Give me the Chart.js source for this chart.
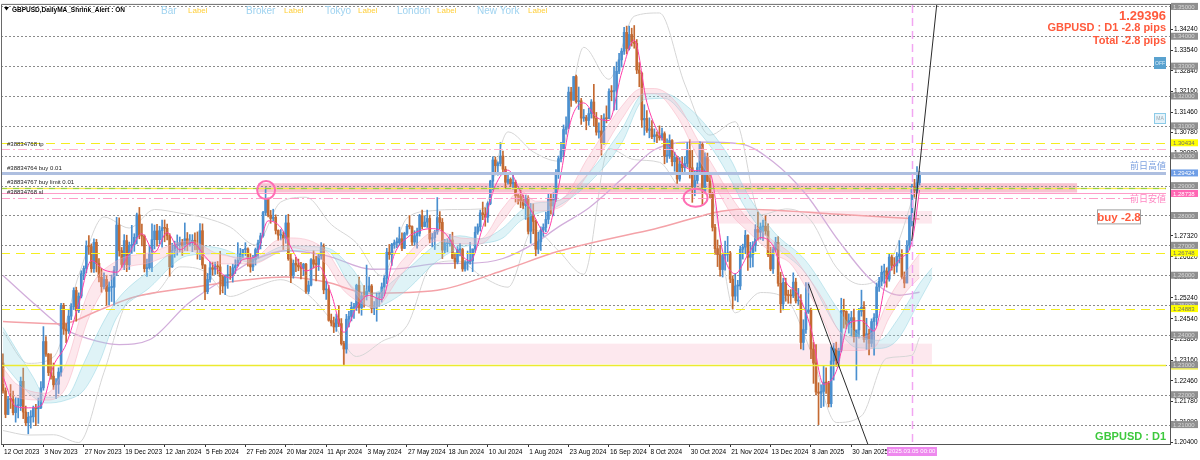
<!DOCTYPE html>
<html>
<head>
<meta charset="utf-8">
<title>GBPUSD Daily</title>
<script src="https://cdn.jsdelivr.net/npm/chart.js@4.4.1/dist/chart.umd.min.js"></script>
<style>
  html, body { margin: 0; padding: 0; background: #fff; }
  #wrap { width: 1200px; height: 460px; position: relative; }
</style>
</head>
<body>
<div id="wrap"><canvas id="chart"></canvas></div>
<script>
// --- daily candles, 12 Oct 2023 .. Mar 2025 (bar index = position) ---
const openP = [
  1.2306,1.2213,1.2134,1.2185,1.2184,1.2140,1.2163,1.2163,1.2245,1.2142,
  1.2106,1.2125,1.2126,1.2156,1.2153,1.2157,1.2223,1.2378,1.2336,1.2274,
  1.2262,1.2233,1.2235,1.2276,1.2499,1.2420,1.2414,1.2463,1.2495,1.2549,
  1.2481,1.2530,1.2605,1.2623,1.2698,1.2696,1.2622,1.2710,1.2640,1.2593,
  1.2562,1.2586,1.2546,1.2559,1.2560,1.2617,1.2768,1.2682,1.2636,1.2716,
  1.2635,1.2700,1.2702,1.2727,1.2802,1.2734,1.2731,1.2622,1.2625,1.2671,
  1.2719,1.2748,1.2719,1.2749,1.2759,1.2757,1.2732,1.2628,1.2682,1.2701,
  1.2702,1.2710,1.2697,1.2722,1.2705,1.2710,1.2717,1.2700,1.2686,1.2749,
  1.2634,1.2545,1.2586,1.2625,1.2620,1.2630,1.2628,1.2595,1.2564,1.2599,
  1.2601,1.2598,1.2625,1.2632,1.2651,1.2672,1.2686,1.2688,1.2656,1.2628,
  1.2653,1.2686,1.2708,1.2732,1.2810,1.2857,1.2801,1.2790,1.2794,1.2750,
  1.2734,1.2734,1.2722,1.2775,1.2655,1.2599,1.2640,1.2634,1.2628,1.2623,
  1.2637,1.2546,1.2567,1.2652,1.2637,1.2636,1.2665,1.2696,1.2551,1.2552,
  1.2449,1.2440,1.2427,1.2454,1.2438,1.2371,1.2353,1.2453,1.2462,1.2492,
  1.2492,1.2566,1.2491,1.2531,1.2530,1.2547,1.2564,1.2489,1.2494,1.2524,
  1.2524,1.2561,1.2590,1.2677,1.2669,1.2703,1.2709,1.2709,1.2722,1.2690,
  1.2740,1.2764,1.2763,1.2711,1.2732,1.2740,1.2800,1.2763,1.2778,1.2790,
  1.2721,1.2726,1.2745,1.2793,1.2777,1.2684,1.2706,1.2706,1.2718,1.2657,
  1.2644,1.2685,1.2686,1.2621,1.2642,1.2645,1.2648,1.2688,1.2744,1.2762,
  1.2809,1.2803,1.2794,1.2840,1.2915,1.2986,1.2967,1.2974,1.2999,1.2955,
  1.2911,1.2921,1.2906,1.2911,1.2866,1.2865,1.2849,1.2834,1.2858,1.2747,
  1.2803,1.2780,1.2687,1.2712,1.2751,1.2760,1.2787,1.2858,1.2832,1.2855,
  1.2943,1.2990,1.3016,1.3088,1.3096,1.3213,1.3186,1.3265,1.3181,1.3184,
  1.3126,1.3128,1.3118,1.3141,1.3180,1.3126,1.3079,1.3083,1.3043,1.3126,
  1.3124,1.3215,1.3214,1.3219,1.3283,1.3321,1.3350,1.3413,1.3359,1.3406,
  1.3380,1.3376,1.3287,1.3276,1.3120,1.3125,1.3085,1.3090,1.3064,1.3070,
  1.3067,1.3060,1.3074,1.2999,1.2999,1.3051,1.2980,1.2994,1.2922,1.2972,
  1.2960,1.2974,1.3017,1.2960,1.2896,1.2917,1.2960,1.3038,1.2885,1.2994,
  1.2915,1.2874,1.2760,1.2689,1.2669,1.2619,1.2666,1.2670,1.2675,1.2587,
  1.2530,1.2564,1.2564,1.2687,1.2694,1.2734,1.2660,1.2669,1.2700,1.2753,
  1.2744,1.2762,1.2764,1.2748,1.2669,1.2621,1.2686,1.2710,1.2573,1.2504,
  1.2576,1.2533,1.2532,1.2531,1.2577,1.2514,1.2516,1.2375,1.2418,1.2477,
  1.2484,1.2353,1.2306,1.2209,1.2205,1.2211,1.2242,1.2239,1.2170,1.2313,
  1.2354,1.2315,1.2349,1.2481,1.2479,1.2436,1.2448,1.2458,1.2394,1.2417,
  1.2479,1.2493,1.2385,1.2404,1.2372,1.2445,1.2458,1.2561,1.2580,1.2610,
  1.2614,1.2587,1.2661,1.2633,1.2631,1.2663,1.2671,1.2594,1.2574,1.2700,
  1.2795,1.2897,1.2884,1.2910
];
const highP = [
  1.2337,1.2223,1.2195,1.2234,1.2212,1.2190,1.2189,1.2259,1.2289,1.2162,
  1.2141,1.2147,1.2162,1.2168,1.2189,1.2244,1.2428,1.2395,1.2338,1.2337,
  1.2306,1.2254,1.2290,1.2506,1.2506,1.2438,1.2486,1.2505,1.2558,1.2560,
  1.2541,1.2615,1.2631,1.2715,1.2733,1.2705,1.2722,1.2720,1.2656,1.2623,
  1.2608,1.2600,1.2578,1.2601,1.2630,1.2794,1.2792,1.2693,1.2736,1.2734,
  1.2711,1.2767,1.2739,1.2808,1.2827,1.2771,1.2735,1.2654,1.2700,1.2772,
  1.2768,1.2770,1.2764,1.2785,1.2785,1.2771,1.2739,1.2707,1.2714,1.2735,
  1.2728,1.2720,1.2775,1.2743,1.2736,1.2736,1.2742,1.2745,1.2773,1.2772,
  1.2636,1.2606,1.2645,1.2644,1.2644,1.2646,1.2680,1.2600,1.2601,1.2634,
  1.2630,1.2637,1.2652,1.2709,1.2690,1.2687,1.2709,1.2692,1.2672,1.2667,
  1.2691,1.2718,1.2741,1.2814,1.2893,1.2858,1.2817,1.2821,1.2802,1.2752,
  1.2753,1.2745,1.2801,1.2804,1.2671,1.2651,1.2660,1.2654,1.2643,1.2640,
  1.2640,1.2581,1.2656,1.2682,1.2663,1.2672,1.2709,1.2705,1.2581,1.2566,
  1.2470,1.2460,1.2470,1.2498,1.2455,1.2379,1.2469,1.2479,1.2510,1.2506,
  1.2570,1.2594,1.2541,1.2565,1.2634,1.2594,1.2569,1.2512,1.2540,1.2541,
  1.2574,1.2599,1.2690,1.2703,1.2707,1.2718,1.2725,1.2761,1.2742,1.2744,
  1.2770,1.2800,1.2765,1.2749,1.2758,1.2804,1.2818,1.2799,1.2818,1.2801,
  1.2740,1.2750,1.2860,1.2813,1.2790,1.2720,1.2722,1.2737,1.2744,1.2675,
  1.2696,1.2707,1.2690,1.2649,1.2681,1.2710,1.2688,1.2762,1.2772,1.2818,
  1.2845,1.2826,1.2846,1.2918,1.2996,1.2996,1.2980,1.3044,1.3016,1.2964,
  1.2944,1.2926,1.2937,1.2918,1.2874,1.2885,1.2868,1.2868,1.2866,1.2840,
  1.2839,1.2785,1.2744,1.2762,1.2772,1.2811,1.2873,1.2872,1.2876,1.2954,
  1.2999,1.3045,1.3103,1.3130,1.3230,1.3229,1.3266,1.3270,1.3230,1.3192,
  1.3155,1.3135,1.3159,1.3188,1.3239,1.3145,1.3110,1.3135,1.3140,1.3167,
  1.3224,1.3235,1.3298,1.3314,1.3343,1.3359,1.3430,1.3434,1.3434,1.3427,
  1.3436,1.3389,1.3312,1.3280,1.3171,1.3151,1.3127,1.3118,1.3090,1.3080,
  1.3100,1.3093,1.3080,1.3057,1.3070,1.3054,1.3012,1.2999,1.2994,1.2995,
  1.2997,1.3044,1.3054,1.3018,1.2949,1.2976,1.3047,1.3043,1.3010,1.3009,
  1.2935,1.2877,1.2770,1.2718,1.2700,1.2672,1.2714,1.2730,1.2680,1.2598,
  1.2605,1.2583,1.2698,1.2704,1.2750,1.2735,1.2710,1.2713,1.2769,1.2811,
  1.2775,1.2785,1.2799,1.2772,1.2694,1.2693,1.2727,1.2729,1.2610,1.2590,
  1.2590,1.2550,1.2552,1.2608,1.2590,1.2556,1.2535,1.2451,1.2575,1.2575,
  1.2490,1.2375,1.2368,1.2240,1.2233,1.2295,1.2290,1.2245,1.2360,1.2372,
  1.2376,1.2356,1.2523,1.2520,1.2481,1.2471,1.2479,1.2487,1.2407,1.2489,
  1.2550,1.2512,1.2456,1.2420,1.2454,1.2472,1.2574,1.2593,1.2631,1.2637,
  1.2625,1.2671,1.2668,1.2659,1.2676,1.2716,1.2686,1.2611,1.2716,1.2800,
  1.2904,1.2921,1.2964,1.2948
];
const lowP = [
  1.2205,1.2123,1.2133,1.2154,1.2132,1.2108,1.2122,1.2147,1.2120,1.2096,
  1.2069,1.2088,1.2108,1.2096,1.2104,1.2153,1.2215,1.2328,1.2264,1.2252,
  1.2218,1.2187,1.2204,1.2262,1.2402,1.2374,1.2405,1.2451,1.2485,1.2446,
  1.2475,1.2524,1.2585,1.2608,1.2670,1.2610,1.2609,1.2611,1.2578,1.2543,
  1.2554,1.2499,1.2501,1.2512,1.2500,1.2599,1.2664,1.2626,1.2619,1.2612,
  1.2619,1.2673,1.2680,1.2705,1.2722,1.2698,1.2611,1.2596,1.2620,1.2612,
  1.2688,1.2697,1.2705,1.2694,1.2712,1.2718,1.2597,1.2626,1.2660,1.2667,
  1.2678,1.2666,1.2683,1.2682,1.2697,1.2679,1.2685,1.2654,1.2652,1.2622,
  1.2518,1.2538,1.2577,1.2600,1.2603,1.2604,1.2536,1.2541,1.2535,1.2556,
  1.2586,1.2577,1.2606,1.2630,1.2640,1.2657,1.2666,1.2630,1.2610,1.2615,
  1.2634,1.2658,1.2688,1.2727,1.2800,1.2795,1.2774,1.2782,1.2738,1.2717,
  1.2718,1.2686,1.2707,1.2650,1.2575,1.2590,1.2612,1.2615,1.2588,1.2599,
  1.2539,1.2538,1.2564,1.2624,1.2581,1.2616,1.2654,1.2538,1.2519,1.2446,
  1.2430,1.2408,1.2412,1.2428,1.2366,1.2300,1.2339,1.2427,1.2447,1.2455,
  1.2482,1.2473,1.2466,1.2493,1.2517,1.2544,1.2474,1.2468,1.2446,1.2496,
  1.2510,1.2531,1.2572,1.2653,1.2633,1.2690,1.2692,1.2701,1.2682,1.2689,
  1.2734,1.2755,1.2700,1.2702,1.2691,1.2731,1.2755,1.2762,1.2760,1.2709,
  1.2695,1.2686,1.2737,1.2755,1.2656,1.2675,1.2678,1.2697,1.2655,1.2623,
  1.2638,1.2665,1.2613,1.2614,1.2617,1.2637,1.2612,1.2677,1.2737,1.2748,
  1.2786,1.2764,1.2777,1.2836,1.2886,1.2936,1.2935,1.2966,1.2938,1.2893,
  1.2905,1.2897,1.2888,1.2845,1.2838,1.2826,1.2823,1.2787,1.2738,1.2707,
  1.2739,1.2665,1.2672,1.2683,1.2730,1.2745,1.2772,1.2804,1.2799,1.2846,
  1.2924,1.2979,1.2997,1.3072,1.3090,1.3165,1.3185,1.3176,1.3155,1.3105,
  1.3115,1.3087,1.3102,1.3126,1.3101,1.3069,1.3059,1.3002,1.3038,1.3110,
  1.3124,1.3184,1.3153,1.3154,1.3275,1.3297,1.3339,1.3341,1.3354,1.3367,
  1.3360,1.3275,1.3231,1.3095,1.3069,1.3078,1.3060,1.3057,1.3046,1.3044,
  1.3052,1.3052,1.2973,1.2978,1.2991,1.2966,1.2948,1.2907,1.2915,1.2945,
  1.2947,1.2962,1.2925,1.2844,1.2866,1.2907,1.2940,1.2835,1.2878,1.2913,
  1.2859,1.2748,1.2670,1.2629,1.2597,1.2594,1.2617,1.2646,1.2575,1.2487,
  1.2516,1.2511,1.2552,1.2654,1.2672,1.2616,1.2626,1.2628,1.2680,1.2717,
  1.2720,1.2716,1.2734,1.2662,1.2615,1.2606,1.2680,1.2563,1.2475,1.2484,
  1.2513,1.2506,1.2506,1.2525,1.2507,1.2502,1.2353,1.2350,1.2405,1.2472,
  1.2321,1.2238,1.2199,1.2100,1.2157,1.2161,1.2204,1.2159,1.2159,1.2249,
  1.2295,1.2293,1.2343,1.2423,1.2421,1.2406,1.2396,1.2376,1.2249,1.2389,
  1.2463,1.2376,1.2352,1.2333,1.2360,1.2332,1.2432,1.2546,1.2564,1.2573,
  1.2560,1.2580,1.2617,1.2604,1.2610,1.2641,1.2588,1.2558,1.2574,1.2685,
  1.2764,1.2861,1.2874,1.2902
];
const closeP = [
  1.2213,1.2134,1.2185,1.2184,1.2140,1.2163,1.2163,1.2245,1.2142,1.2106,
  1.2125,1.2126,1.2156,1.2153,1.2157,1.2223,1.2378,1.2336,1.2274,1.2262,
  1.2233,1.2235,1.2276,1.2499,1.2420,1.2414,1.2463,1.2495,1.2549,1.2481,
  1.2530,1.2605,1.2623,1.2698,1.2696,1.2622,1.2710,1.2640,1.2593,1.2562,
  1.2586,1.2546,1.2559,1.2560,1.2617,1.2768,1.2682,1.2636,1.2716,1.2635,
  1.2700,1.2702,1.2727,1.2802,1.2734,1.2731,1.2622,1.2625,1.2671,1.2719,
  1.2748,1.2719,1.2749,1.2759,1.2757,1.2732,1.2628,1.2682,1.2701,1.2702,
  1.2710,1.2697,1.2722,1.2705,1.2710,1.2717,1.2700,1.2686,1.2749,1.2634,
  1.2545,1.2586,1.2625,1.2620,1.2630,1.2628,1.2595,1.2564,1.2599,1.2601,
  1.2598,1.2625,1.2632,1.2651,1.2672,1.2686,1.2688,1.2656,1.2628,1.2653,
  1.2686,1.2708,1.2732,1.2810,1.2857,1.2801,1.2790,1.2794,1.2750,1.2734,
  1.2734,1.2722,1.2775,1.2655,1.2599,1.2640,1.2634,1.2628,1.2623,1.2637,
  1.2546,1.2567,1.2652,1.2637,1.2636,1.2665,1.2696,1.2551,1.2552,1.2449,
  1.2440,1.2427,1.2454,1.2438,1.2371,1.2353,1.2453,1.2462,1.2492,1.2492,
  1.2566,1.2491,1.2531,1.2530,1.2547,1.2564,1.2489,1.2494,1.2524,1.2524,
  1.2561,1.2590,1.2677,1.2669,1.2703,1.2709,1.2709,1.2722,1.2690,1.2740,
  1.2764,1.2763,1.2711,1.2732,1.2740,1.2800,1.2763,1.2778,1.2790,1.2721,
  1.2726,1.2745,1.2793,1.2777,1.2684,1.2706,1.2706,1.2718,1.2657,1.2644,
  1.2685,1.2686,1.2621,1.2642,1.2645,1.2648,1.2688,1.2744,1.2762,1.2809,
  1.2803,1.2794,1.2840,1.2915,1.2986,1.2967,1.2974,1.2999,1.2955,1.2911,
  1.2921,1.2906,1.2911,1.2866,1.2865,1.2849,1.2834,1.2858,1.2747,1.2803,
  1.2780,1.2687,1.2712,1.2751,1.2760,1.2787,1.2858,1.2832,1.2855,1.2943,
  1.2990,1.3016,1.3088,1.3096,1.3213,1.3186,1.3265,1.3181,1.3184,1.3126,
  1.3128,1.3118,1.3141,1.3180,1.3126,1.3079,1.3083,1.3043,1.3126,1.3124,
  1.3215,1.3214,1.3219,1.3283,1.3321,1.3350,1.3413,1.3359,1.3406,1.3380,
  1.3376,1.3287,1.3276,1.3120,1.3125,1.3085,1.3090,1.3064,1.3070,1.3067,
  1.3060,1.3074,1.2999,1.2999,1.3051,1.2980,1.2994,1.2922,1.2972,1.2960,
  1.2974,1.3017,1.2960,1.2896,1.2917,1.2960,1.3038,1.2885,1.2994,1.2915,
  1.2874,1.2760,1.2689,1.2669,1.2619,1.2666,1.2670,1.2675,1.2587,1.2530,
  1.2564,1.2564,1.2687,1.2694,1.2734,1.2660,1.2669,1.2700,1.2753,1.2744,
  1.2762,1.2764,1.2748,1.2669,1.2621,1.2686,1.2710,1.2573,1.2504,1.2576,
  1.2533,1.2532,1.2531,1.2577,1.2514,1.2516,1.2375,1.2418,1.2477,1.2484,
  1.2353,1.2306,1.2209,1.2205,1.2211,1.2242,1.2239,1.2170,1.2313,1.2354,
  1.2315,1.2349,1.2481,1.2479,1.2436,1.2448,1.2458,1.2394,1.2417,1.2479,
  1.2493,1.2385,1.2404,1.2372,1.2445,1.2458,1.2561,1.2580,1.2610,1.2614,
  1.2587,1.2661,1.2633,1.2631,1.2663,1.2671,1.2594,1.2574,1.2700,1.2795,
  1.2897,1.2884,1.2910,1.29396
];

// time axis labels, one every 16 bars
const dateTickIdx = [0,16,32,48,64,80,96,112,128,144,160,176,192,208,224,240,256,272,288,304,320,336];
const dateLabels = ['12 Oct 2023','3 Nov 2023','27 Nov 2023','19 Dec 2023','12 Jan 2024','5 Feb 2024',
  '27 Feb 2024','20 Mar 2024','11 Apr 2024','3 May 2024','27 May 2024','18 Jun 2024','10 Jul 2024',
  '1 Aug 2024','23 Aug 2024','16 Sep 2024','8 Oct 2024','30 Oct 2024','21 Nov 2024','13 Dec 2024',
  '8 Jan 2025','30 Jan 2025'];

// price scale labels and round levels
const priceTicks = [1.20400,1.21090,1.21780,1.22460,1.23160,1.23860,1.24540,1.25240,1.25940,1.26620,
  1.27320,1.28020,1.28700,1.29400,1.30080,1.30780,1.31460,1.32160,1.32840,1.33540,1.34240,1.34930];
const gridLevels = [1.21,1.22,1.23,1.24,1.25,1.26,1.27,1.28,1.29,1.30,1.31,1.32,1.33,1.34,1.35];

// indicator lines (bar index -> price)
const bbIdx = [0,10,20,30,40,50,60,70,80,90,100,110,120,130,140,150,160,170,180,190,200,
  210,220,230,240,250,260,270,280,290,300,310,320,330,340,350,360,363];
const bbUpper = [1.2410,1.2305,1.2326,1.2600,1.2795,1.2758,1.2820,1.2808,1.2792,1.2761,1.2701,
  1.2845,1.2861,1.2770,1.2708,1.2598,1.2791,1.2816,1.2820,1.2822,1.3080,1.3013,1.2982,1.3363,
  1.3256,1.3467,1.3478,1.3240,1.3069,1.3114,1.2802,1.2822,1.2783,1.2627,1.2569,1.2622,1.2852,1.2952];
const bbLower = [1.2080,1.2065,1.2066,1.2040,1.2275,1.2518,1.2540,1.2628,1.2612,1.2529,1.2561,
  1.2585,1.2541,1.2450,1.2328,1.2378,1.2431,1.2636,1.2648,1.2594,1.2560,1.2753,1.2682,1.2603,
  1.3024,1.2987,1.2978,1.2880,1.2869,1.2474,1.2542,1.2522,1.2343,1.2107,1.2129,1.2322,1.2332,1.2392];

const purpleIdx = [0,12,25,38,46,58,73,85,99,112,128,146,158,172,185,198,211,220,232,245,258,275,292,305,318,331,344,355,363];
const purpleMa = [1.2599,1.2507,1.2417,1.2378,1.2368,1.2384,1.2503,1.2573,1.2649,1.2682,1.2666,1.2620,
  1.2623,1.2639,1.2640,1.2656,1.2709,1.2762,1.2825,1.2921,1.3020,1.3046,1.3040,1.2980,1.2871,1.2715,
  1.2583,1.2533,1.2543];

const salmonIdx = [0,23,38,52,74,112,128,145,172,198,220,258,293,331,363];
const salmonMa = [1.2445,1.2437,1.2483,1.2527,1.2558,1.2594,1.2577,1.2540,1.2550,1.2616,1.2680,1.2755,1.2821,1.2804,1.2788];

const pinkIdx = [0,5,17,25,34,45,58,74,85,99,108,114,128,134,140,147,158,172,181,189,198,205,211,220,
  232,245,253,258,267,275,282,289,294,299,305,312,318,325,331,338,345,351,358,363];
const pinkHi = [1.2290,1.2238,1.2205,1.2305,1.2548,1.2648,1.2675,1.2715,1.2672,1.2658,1.2715,1.2725,
  1.2682,1.2605,1.2548,1.2525,1.2648,1.2748,1.2725,1.2722,1.2825,1.2882,1.2848,1.2850,1.2998,1.3165,
  1.3225,1.3225,1.3175,1.3055,1.2955,1.2855,1.2798,1.2758,1.2715,1.2672,1.2605,1.2515,1.2415,1.2392,
  1.2415,1.2525,1.2615,1.2672];
const pinkLo = [1.2240,1.2192,1.2182,1.2225,1.2458,1.2605,1.2642,1.2682,1.2638,1.2638,1.2672,1.2692,
  1.2638,1.2558,1.2515,1.2492,1.2605,1.2715,1.2705,1.2705,1.2782,1.2848,1.2815,1.2825,1.2942,1.3122,
  1.3205,1.3208,1.3132,1.2998,1.2898,1.2798,1.2755,1.2715,1.2672,1.2638,1.2558,1.2448,1.2348,1.2348,
  1.2358,1.2458,1.2548,1.2592];

const cyanIdx = [0,12,17,25,32,38,45,58,73,85,99,112,128,138,146,158,172,181,189,198,205,211,219,
  232,245,254,262,271,281,289,293,305,318,331,338,347,354,363,368];
const cyanHi = [1.2425,1.2258,1.2192,1.2195,1.2305,1.2415,1.2515,1.2615,1.2700,1.2692,1.2658,1.2698,
  1.2692,1.2625,1.2540,1.2605,1.2705,1.2732,1.2722,1.2758,1.2815,1.2842,1.2848,1.2942,1.3088,1.3208,
  1.3208,1.3165,1.3075,1.2975,1.2900,1.2748,1.2648,1.2482,1.2405,1.2382,1.2448,1.2572,1.2625];
const cyanLo = [1.2305,1.2192,1.2172,1.2182,1.2215,1.2305,1.2458,1.2558,1.2665,1.2672,1.2642,1.2682,
  1.2682,1.2558,1.2492,1.2538,1.2648,1.2692,1.2705,1.2725,1.2782,1.2805,1.2828,1.2908,1.3042,1.3188,
  1.3192,1.3122,1.3022,1.2908,1.2840,1.2705,1.2605,1.2415,1.2358,1.2355,1.2382,1.2515,1.2592];

const fastIdx = [0,5,10,15,20,25,30,35,40,45,50,55,60,65,70,75,80,85,90,95,100,105,110,115,120,125,
  130,135,140,145,150,155,160,165,170,175,180,185,190,195,200,205,210,215,220,225,230,235,240,245,
  250,255,260,265,270,275,280,285,290,295,300,305,310,315,320,325,330,335,340,345,350,355,360,363];
const fastMa = [1.2260,1.2161,1.2156,1.2163,1.2297,1.2369,1.2504,1.2649,1.2618,1.2610,1.2674,1.2739,
  1.2677,1.2743,1.2685,1.2710,1.2663,1.2618,1.2591,1.2653,1.2662,1.2782,1.2760,1.2678,1.2614,1.2631,
  1.2538,1.2409,1.2493,1.2533,1.2518,1.2670,1.2725,1.2749,1.2756,1.2741,1.2682,1.2648,1.2761,1.2900,
  1.2952,1.2879,1.2804,1.2739,1.2896,1.3120,1.3177,1.3129,1.3118,1.3277,1.3387,1.3179,1.3070,1.3021,
  1.2964,1.2950,1.2941,1.2681,1.2605,1.2668,1.2726,1.2698,1.2579,1.2534,1.2421,1.2235,1.2278,1.2439,
  1.2448,1.2413,1.2590,1.2652,1.2712,1.2885];

// chart objects drawn on the price panel
const zoneRects = [
  { i0: 101, i1: 425.4, lo: 1.2877, hi: 1.2908, fill: 'rgba(245,170,190,0.7)' },
  { i0: 281, i1: 367.9, lo: 1.2773, hi: 1.2815, fill: 'rgba(252,214,224,0.55)' },
  { i0: 134.3, i1: 367.9, lo: 1.2302, hi: 1.2371, fill: 'rgba(252,214,224,0.55)' }
];
const hLines = [
  { p: 1.30434, color: '#f4ee20', dash: [9, 6], w: 1.2 },
  { p: 1.30230, color: '#ffb0d0', dash: [9, 3, 2, 3], w: 1.2 },
  { p: 1.29424, color: '#aebfe0', dash: [], w: 3 },
  { p: 1.28738, color: '#ff9cc8', dash: [], w: 1.2 },
  { p: 1.28600, color: '#ff9cc8', dash: [9, 3, 2, 3], w: 1.2, gap: 36 },
  { p: 1.26748, color: '#f4ee20', dash: [9, 6], w: 1.2 },
  { p: 1.24883, color: '#f4ee20', dash: [9, 6], w: 1.2 },
  { p: 1.23000, color: '#ecea30', dash: [], w: 1.5 }
];
const buyLimitLevel = 1.28930;
const trendLines = [
  { i0: 319, p0: 1.2571, i1: 342.5, p1: 1.2035 },
  { i0: 359.9, p0: 1.2715, i1: 369.8, p1: 1.3505 }
];
const markCircles = [
  { i: 104.2, p: 1.2885, rx: 9, ry: 9 },
  { i: 274.3, p: 1.2859, rx: 12, ry: 9 }
];
const todayIdx = 360;
const orderLabels = [
  { p: 1.30330, text: '#38834768 tp' },
  { p: 1.29520, text: '#38834764 buy 0.01' },
  { p: 1.29040, text: '#38834767 buy limit 0.01' },
  { p: 1.28720, text: '#38834768 sl' }
];
const axisMarks = [
  { p: 1.30434, bg: '#ffff00', fg: '#707070' },
  { p: 1.29424, bg: '#6f9ee6', fg: '#ffffff' },
  { p: 1.28738, bg: '#ff66b3', fg: '#ffffff' },
  { p: 1.26748, bg: '#ffff00', fg: '#707070' },
  { p: 1.24883, bg: '#ffff00', fg: '#707070' }
];

const FONT = "'Liberation Sans', Arial, sans-serif";
const UP = '#4a8fcf', DOWN = '#c46a32';
const candleColors = closeP.map((c, i) => (c >= openP[i] ? UP : DOWN));
const pts = (xs, ys) => xs.map((x, k) => ({ x: x, y: ys[k] }));

function lineDs(data, color, width, order, extra) {
  return Object.assign({
    type: 'line', data: data, borderColor: color, borderWidth: width,
    pointRadius: 0, fill: false, cubicInterpolationMode: 'monotone', order: order
  }, extra || {});
}

const overlay = {
  id: 'mt4Overlay',
  beforeDatasetsDraw(chart) {
    const { ctx, chartArea: a, scales: { x, y } } = chart;
    ctx.save();
    ctx.beginPath();
    ctx.rect(a.left, a.top, a.right - a.left, a.bottom - a.top);
    ctx.clip();
    zoneRects.forEach(r => {
      const x0 = x.getPixelForValue(r.i0), x1 = x.getPixelForValue(r.i1);
      const y0 = y.getPixelForValue(r.hi), y1 = y.getPixelForValue(r.lo);
      ctx.fillStyle = r.fill;
      ctx.fillRect(x0, y0, x1 - x0, y1 - y0);
    });
    ctx.strokeStyle = '#8c8c8c';
    ctx.lineWidth = 1;
    ctx.setLineDash([2, 2]);
    gridLevels.forEach(p => {
      const yy = Math.round(y.getPixelForValue(p)) + 0.5;
      ctx.beginPath();
      ctx.moveTo(a.left, yy);
      ctx.lineTo(a.right, yy);
      ctx.stroke();
    });
    ctx.restore();
  },
  afterDatasetsDraw(chart) {
    const { ctx, chartArea: a, scales: { x, y } } = chart;
    ctx.save();
    ctx.beginPath();
    ctx.rect(a.left, a.top, a.right - a.left, a.bottom - a.top);
    ctx.clip();

    // horizontal levels
    hLines.forEach(l => {
      const yy = Math.round(y.getPixelForValue(l.p)) + 0.5;
      ctx.strokeStyle = l.color;
      ctx.lineWidth = l.w;
      ctx.setLineDash(l.dash);
      ctx.beginPath();
      ctx.moveTo(a.left, yy);
      ctx.lineTo(a.right - (l.gap || 4), yy);
      ctx.stroke();
    });
    // buy limit: alternating green / yellow dashes
    const yb = Math.round(y.getPixelForValue(buyLimitLevel)) + 0.5;
    ctx.lineWidth = 1.3;
    ctx.setLineDash([6, 6]);
    ctx.strokeStyle = '#9fd23a';
    ctx.beginPath(); ctx.moveTo(a.left, yb); ctx.lineTo(a.right - 4, yb); ctx.stroke();
    ctx.lineDashOffset = 6;
    ctx.strokeStyle = '#f0e84a';
    ctx.beginPath(); ctx.moveTo(a.left, yb); ctx.lineTo(a.right - 4, yb); ctx.stroke();
    ctx.lineDashOffset = 0;

    // today marker
    const xt = Math.round(x.getPixelForValue(todayIdx)) + 0.5;
    ctx.strokeStyle = '#f2a6f2';
    ctx.lineWidth = 1.5;
    ctx.setLineDash([8, 5]);
    ctx.beginPath(); ctx.moveTo(xt, a.top); ctx.lineTo(xt, a.bottom); ctx.stroke();

    // trend lines
    ctx.setLineDash([]);
    ctx.strokeStyle = '#2b2b2b';
    ctx.lineWidth = 1;
    trendLines.forEach(t => {
      ctx.beginPath();
      ctx.moveTo(x.getPixelForValue(t.i0), y.getPixelForValue(t.p0));
      ctx.lineTo(x.getPixelForValue(t.i1), y.getPixelForValue(t.p1));
      ctx.stroke();
    });

    // circles
    ctx.strokeStyle = '#ff6eb4';
    ctx.lineWidth = 2;
    markCircles.forEach(c => {
      ctx.beginPath();
      ctx.ellipse(x.getPixelForValue(c.i), y.getPixelForValue(c.p), c.rx, c.ry, 0, 0, Math.PI * 2);
      ctx.stroke();
    });

    // order labels (left)
    ctx.fillStyle = '#1a1a1a';
    ctx.font = '6px ' + FONT;
    ctx.textAlign = 'left';
    ctx.textBaseline = 'alphabetic';
    orderLabels.forEach(o => ctx.fillText(o.text, a.left + 6, y.getPixelForValue(o.p)));

    // header
    ctx.fillStyle = '#000';
    ctx.beginPath();
    ctx.moveTo(a.left + 3, 7); ctx.lineTo(a.left + 8, 7); ctx.lineTo(a.left + 5.5, 10.5); ctx.closePath();
    ctx.fill();
    ctx.font = 'bold 6.5px ' + FONT;
    ctx.fillText('GBPUSD,DailyMA_Shrink_Alert : ON', a.left + 11, 12);

    const tabs = [['Bar', 161], ['Broker', 246], ['Tokyo', 325], ['London', 397], ['New York', 477]];
    const labelX = [188, 284, 358, 437, 528];
    tabs.forEach((t, k) => {
      ctx.font = '10px ' + FONT;
      ctx.fillStyle = '#9fd3f0';
      ctx.fillText(t[0], t[1], 14);
      ctx.font = '8px ' + FONT;
      ctx.fillStyle = '#ffcf3a';
      ctx.fillText('Label', labelX[k], 13);
    });

    // top-right info
    ctx.textAlign = 'right';
    ctx.fillStyle = '#ff5a3c';
    ctx.font = 'bold 13px ' + FONT;
    ctx.fillText('1.29396', a.right - 4, 20);
    ctx.font = 'bold 11px ' + FONT;
    ctx.fillText('GBPUSD : D1 -2.8 pips', a.right - 4, 31);
    ctx.fillText('Total -2.8 pips', a.right - 4, 44);

    ctx.font = "9px 'Noto Sans CJK JP', sans-serif";
    ctx.fillStyle = '#7ea2e0';
    ctx.fillText('前日高値', a.right - 4, y.getPixelForValue(1.29424) - 4);
    ctx.fillStyle = '#ff86c2';
    ctx.fillText('前日安値', a.right - 4, y.getPixelForValue(1.28600) + 4);

    // buy label box
    const by = y.getPixelForValue(1.2797);
    ctx.fillStyle = '#ffffff';
    ctx.fillRect(1097, by - 7, 44, 15);
    ctx.strokeStyle = '#a0a0a0';
    ctx.lineWidth = 1;
    ctx.strokeRect(1097.5, by - 6.5, 43, 14);
    ctx.fillStyle = '#ff5a3c';
    ctx.font = 'bold 11.5px ' + FONT;
    ctx.textAlign = 'center';
    ctx.textBaseline = 'middle';
    ctx.fillText('buy -2.8', 1119, by + 1);

    // buttons
    ctx.fillStyle = '#5aa2cf';
    ctx.fillRect(1154, 57, 12, 12);
    ctx.fillStyle = '#d8ecf8';
    ctx.font = '5px ' + FONT;
    ctx.fillText('OFF', 1160, 63.5);
    ctx.fillStyle = '#e6f3fa';
    ctx.fillRect(1154, 113, 12, 11);
    ctx.strokeStyle = '#8ccbe8';
    ctx.strokeRect(1154.5, 113.5, 11, 10);
    ctx.fillStyle = '#9aa6ad';
    ctx.fillText('MA', 1160, 119);

    // symbol label bottom-right
    ctx.textAlign = 'right';
    ctx.textBaseline = 'alphabetic';
    ctx.fillStyle = '#3cc83c';
    ctx.font = 'bold 11px ' + FONT;
    ctx.fillText('GBPUSD : D1', a.right - 4, a.bottom - 4);
    ctx.restore();
  },
  afterDraw(chart) {
    const { ctx, chartArea: a, scales: { x, y } } = chart;
    ctx.save();
    // frame
    ctx.strokeStyle = '#6a6a6a';
    ctx.lineWidth = 1;
    ctx.beginPath();
    ctx.moveTo(a.left + 0.5, a.bottom); ctx.lineTo(a.left + 0.5, a.top - 0.5); ctx.lineTo(a.right, a.top - 0.5);
    ctx.stroke();

    // price boxes on the axis
    ctx.font = '6px ' + FONT;
    ctx.textAlign = 'left';
    ctx.textBaseline = 'middle';
    const bx = a.right + 1;
    const box = (p, bg, fg) => {
      const yy = y.getPixelForValue(p);
      ctx.fillStyle = bg;
      ctx.fillRect(bx, yy - 3.5, 27, 7);
      ctx.fillStyle = fg;
      ctx.fillText(p.toFixed(5), bx + 2, yy + 0.5);
    };
    gridLevels.forEach(p => box(p, '#8f8f8f', '#d9d9d9'));
    const y23 = y.getPixelForValue(1.23);
    ctx.fillStyle = '#ecea30';
    ctx.fillRect(bx, y23 + 3.5, 27, 1.2);
    axisMarks.forEach(m => box(m.p, m.bg, m.fg));

    // time marker label
    const xt = x.getPixelForValue(todayIdx);
    ctx.fillStyle = '#ee88ee';
    ctx.fillRect(xt - 25, a.bottom + 3, 50, 9);
    ctx.fillStyle = '#ffffff';
    ctx.textAlign = 'center';
    ctx.fillText('2025.03.05 00:00', xt, a.bottom + 7.5);
    ctx.restore();
  }
};

Chart.defaults.font.family = FONT;

new Chart(document.getElementById('chart'), {
  type: 'bar',
  data: {
    datasets: [
      lineDs(pts(bbIdx, bbUpper), '#d6d6d6', 1, 30),
      lineDs(pts(bbIdx, bbLower), '#d6d6d6', 1, 30),
      lineDs(pts(salmonIdx, salmonMa), '#f4a2a8', 1.5, 29),
      lineDs(pts(purpleIdx, purpleMa), '#d2aedb', 1.3, 29),
      {
        type: 'bar', data: highP.map((h, i) => ({ x: i, y: [lowP[i], h] })),
        backgroundColor: candleColors, barThickness: 1, grouped: false, order: 20
      },
      {
        type: 'bar', data: openP.map((o, i) => ({ x: i, y: [o, closeP[i]] })),
        backgroundColor: candleColors, barThickness: 2, minBarLength: 1, grouped: false, order: 19
      },
      lineDs(pts(cyanIdx, cyanHi), 'rgba(130,205,220,0.55)', 0.8, 10),
      lineDs(pts(cyanIdx, cyanLo), 'rgba(130,205,220,0.55)', 0.8, 10,
        { fill: '-1', backgroundColor: 'rgba(150,216,228,0.3)' }),
      lineDs(pts(pinkIdx, pinkHi), 'rgba(246,165,184,0.55)', 0.8, 9),
      lineDs(pts(pinkIdx, pinkLo), 'rgba(246,165,184,0.55)', 0.8, 9,
        { fill: '-1', backgroundColor: 'rgba(250,180,196,0.3)' }),
      lineDs(pts(fastIdx, fastMa), '#ff3da8', 1, 1)
    ]
  },
  options: {
    responsive: true,
    maintainAspectRatio: false,
    animation: false,
    events: [],
    layout: { padding: { left: 1, top: 3, right: 0, bottom: 0 } },
    plugins: { legend: { display: false }, tooltip: { enabled: false } },
    scales: {
      x: {
        type: 'linear', min: -0.8, max: 462.2, offset: false,
        grid: { drawOnChartArea: false, drawTicks: true, tickLength: 3, color: '#333', offset: false },
        border: { display: true, color: '#555' },
        ticks: {
          autoSkip: false, maxRotation: 0, align: 'start', padding: 1, labelOffset: 1,
          color: '#000', font: { size: 6.5 },
          callback: (v, k) => dateLabels[k]
        },
        afterBuildTicks: s => { s.ticks = dateTickIdx.map(v => ({ value: v })); },
        afterFit: s => { s.height = 16; }
      },
      y: {
        type: 'linear', position: 'right', min: 1.2035, max: 1.3505,
        grid: { drawOnChartArea: false, drawTicks: true, tickLength: 3, color: '#333' },
        border: { display: true, color: '#555' },
        ticks: {
          autoSkip: false, padding: 1, color: '#000', font: { size: 6.5 },
          callback: v => Number(v).toFixed(5)
        },
        afterBuildTicks: s => { s.ticks = priceTicks.map(v => ({ value: v })); },
        afterFit: s => { s.width = 30; }
      }
    }
  },
  plugins: [overlay]
});
</script>
</body>
</html>
